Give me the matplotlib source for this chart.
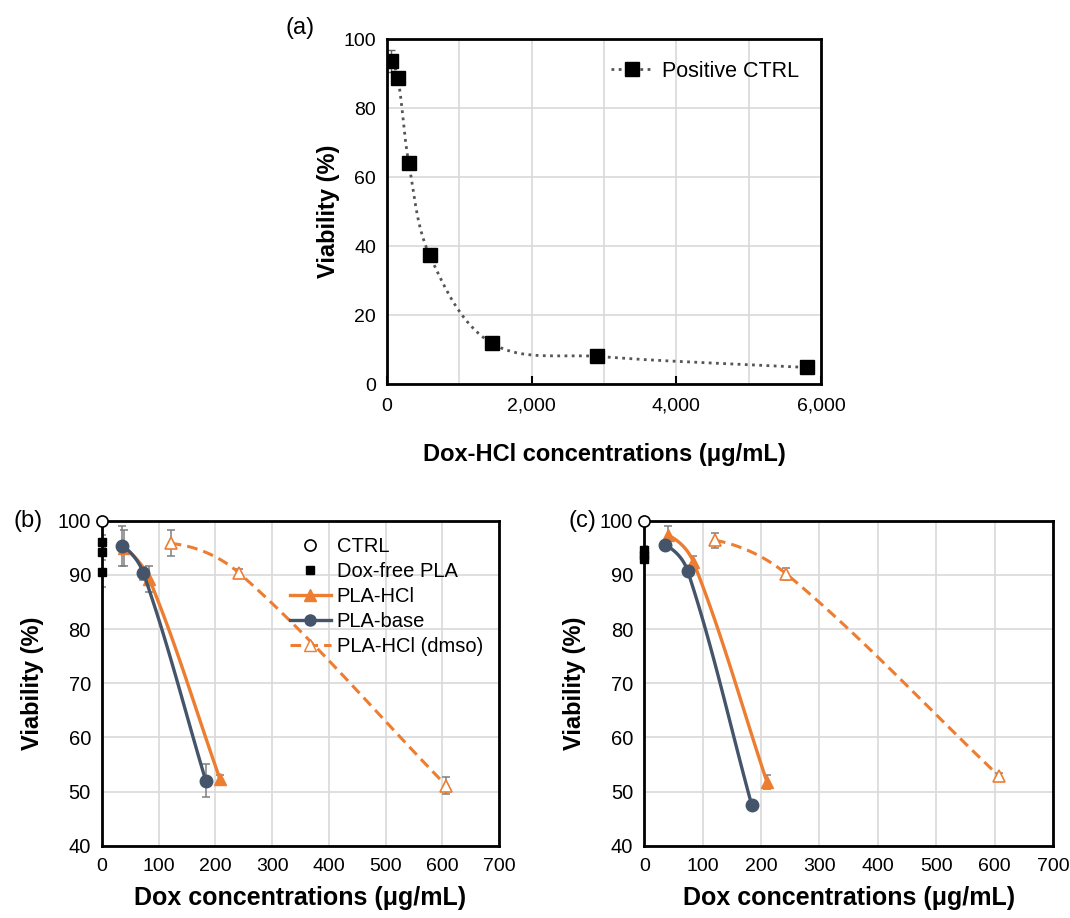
import numpy as np
import matplotlib
matplotlib.use('Agg')
import matplotlib.pyplot as plt
from matplotlib import font_manager as fm
from matplotlib.ticker import MultipleLocator, FuncFormatter
from matplotlib.lines import Line2D

# ---------------- data ----------------
a_conc = [60, 150, 300, 590, 1450, 2900, 5800]
a_viab = [93.5, 88.8, 64.2, 37.3, 11.8, 8.0, 4.8]
a_err = [3.2, 1.0, 1.0, 1.0, 0.8, 0.6, 0.6]

b_ctrl_x = [0]
b_ctrl_y = [100]
b_free_x = [0, 0, 0]
b_free_y = [96.1, 94.2, 90.6]
b_free_err = [1.2, 1.5, 2.8]
b_hcl_x = [38, 83, 208]
b_hcl_y = [95.0, 89.3, 52.3]
b_hcl_err = [3.3, 2.4, 0.8]
b_base_x = [36, 73, 183]
b_base_y = [95.4, 90.3, 52.0]
b_base_err = [3.7, 1.2, 3.0]
b_dmso_x = [121, 241, 607]
b_dmso_y = [95.8, 90.4, 51.1]
b_dmso_err = [2.4, 0.7, 1.5]

c_ctrl_x = [0]
c_ctrl_y = [100]
c_free_x = [0, 0, 0]
c_free_y = [94.5, 93.7, 92.9]
c_free_err = [0.8, 0.8, 0.8]
c_hcl_x = [41, 84, 210]
c_hcl_y = [97.3, 92.4, 51.8]
c_hcl_err = [1.7, 1.0, 1.3]
c_base_x = [36, 74, 184]
c_base_y = [95.5, 90.8, 47.5]
c_base_err = [0.8, 0.5, 0.4]
c_dmso_x = [121, 243, 608]
c_dmso_y = [96.4, 90.2, 52.8]
c_dmso_err = [1.4, 1.1, 0.7]

a_xticks = [0, 2000, 4000, 6000]
a_yticks = [0, 20, 40, 60, 80, 100]
bc_xticks = [0, 100, 200, 300, 400, 500, 600, 700]
bc_yticks = [40, 50, 60, 70, 80, 90, 100]

ORANGE = '#ED7D31'
BLUE = '#44546A'
GRID = '#d9d9d9'
ERRC = '#7f7f7f'

avail = {f.name for f in fm.fontManager.ttflist}
BASE = 'Liberation Sans' if 'Liberation Sans' in avail else 'DejaVu Sans'
NARROW = 'Liberation Sans Narrow' if 'Liberation Sans Narrow' in avail else BASE
plt.rcParams['font.family'] = [BASE, 'DejaVu Sans']


def _unit(v):
    return v / (np.hypot(*v) + 1e-12)


def smooth(x, y, xr, yr, n=40):
    """Smoothed line drawn through the data points (Bezier, length-scaled tangents)."""
    P = np.column_stack([np.asarray(x, float) / xr, np.asarray(y, float) / yr])
    m = len(P)
    D = [None] * m
    for i in range(1, m - 1):
        D[i] = _unit(P[i + 1] - P[i - 1])
    if m == 2:
        D[0] = D[1] = _unit(P[1] - P[0])
    else:
        ch = _unit(P[1] - P[0])
        D[0] = _unit(2 * np.dot(ch, D[1]) * ch - D[1])
        D[-1] = _unit(P[-1] - P[-2])
    out = []
    for i in range(m - 1):
        p1, p2 = P[i], P[i + 1]
        L = np.hypot(*(p2 - p1))
        c1 = p1 + D[i] * L / 3.0
        c2 = p2 - D[i + 1] * L / 3.0
        t = np.linspace(0, 1, n)[:, None]
        seg = ((1 - t) ** 3) * p1 + 3 * ((1 - t) ** 2) * t * c1 + 3 * (1 - t) * t ** 2 * c2 + t ** 3 * p2
        out.append(seg if i == 0 else seg[1:])
    S = np.vstack(out)
    return S[:, 0] * xr, S[:, 1] * yr


fig = plt.figure(figsize=(10.7, 9.18), dpi=100)

# ---------------- panel (a) ----------------
axa = fig.add_axes([387 / 1070, 1 - 384 / 918, 434 / 1070, 345 / 918])
axa.set_xlim(0, 6000)
axa.set_ylim(0, 100)
axa.set_xticks(a_xticks)
axa.set_yticks(a_yticks)
axa.xaxis.set_minor_locator(MultipleLocator(1000))
axa.xaxis.set_major_formatter(FuncFormatter(lambda v, p: f'{int(v):,}'))
axa.grid(True, which='both', color=GRID, lw=1.2)
axa.set_axisbelow(True)
sx, sy = smooth(a_conc, a_viab, 6000 / 434, 100 / 345)
axa.plot(sx, sy, ls=(0, (1, 1.6)), color='#555555', lw=2)
axa.errorbar(a_conc, a_viab, yerr=a_err, fmt='none', ecolor='#666666', elinewidth=1, capsize=3)
axa.plot(a_conc, a_viab, 's', color='black', ms=9.5, ls='none')
axa.tick_params(axis='x', which='major', direction='in', length=6, width=1.5, labelsize=14, pad=10)
axa.tick_params(axis='x', which='minor', length=0)
axa.tick_params(axis='y', length=0, labelsize=14, pad=8)
for s in axa.spines.values():
    s.set_linewidth(2)
axa.set_xlabel('Dox-HCl concentrations (μg/mL)', fontsize=17, fontweight='bold', labelpad=20)
axa.set_ylabel('Viability (%)', fontsize=17, fontweight='bold', labelpad=2)
h = Line2D([], [], color='#555555', ls=(0, (1, 1.6)), lw=2, marker='s', ms=9.5, mfc='black', mec='black')
axa.legend([h], ['Positive CTRL'], loc='upper right', frameon=False, fontsize=15.5,
           handlelength=2.0, handletextpad=0.4, borderaxespad=0.6)
fig.text(300 / 1070, 1 - 28 / 918, '(a)', fontsize=17, ha='center', va='center')


def panel(ax, ctrl_x, ctrl_y, free_x, free_y, free_err, hcl_x, hcl_y, hcl_err,
          base_x, base_y, base_err, dmso_x, dmso_y, dmso_err, wpx, legend=False):
    xr, yr = 700 / wpx, 60 / 325
    ax.set_xlim(0, 700)
    ax.set_ylim(40, 100)
    ax.set_xticks(bc_xticks)
    ax.set_yticks(bc_yticks)
    ax.grid(True, color=GRID, lw=1.2)
    ax.set_axisbelow(True)
    ek = dict(fmt='none', ecolor=ERRC, elinewidth=1.1, capsize=3, capthick=1.1)
    ax.errorbar(free_x, free_y, yerr=free_err, **ek)
    ax.errorbar(hcl_x, hcl_y, yerr=hcl_err, **ek)
    ax.errorbar(base_x, base_y, yerr=base_err, **ek)
    ax.errorbar(dmso_x, dmso_y, yerr=dmso_err, **ek)
    x, y = smooth(dmso_x, dmso_y, xr, yr)
    ax.plot(x, y, color=ORANGE, lw=2.2, ls=(0, (3.5, 2)))
    ax.plot(dmso_x, dmso_y, '^', ms=8, mfc='white', mec=ORANGE, mew=1.2, ls='none')
    x, y = smooth(hcl_x, hcl_y, xr, yr)
    ax.plot(x, y, color=ORANGE, lw=2.4)
    ax.plot(hcl_x, hcl_y, '^', ms=8, color=ORANGE, ls='none')
    x, y = smooth(base_x, base_y, xr, yr)
    ax.plot(x, y, color=BLUE, lw=2.4)
    ax.plot(base_x, base_y, 'o', ms=9, color=BLUE, ls='none')
    ax.plot(free_x, free_y, 's', ms=6, color='black', ls='none', clip_on=False)
    ax.plot(ctrl_x, ctrl_y, 'o', ms=8, mfc='white', mec='black', mew=1.2, ls='none', clip_on=False, zorder=5)
    ax.tick_params(axis='both', length=0)
    ax.tick_params(axis='y', labelsize=14.5, pad=8)
    ax.tick_params(axis='x', labelsize=14, pad=9)
    for lab in ax.get_xticklabels():
        lab.set_fontfamily([NARROW, 'DejaVu Sans'])
    for s in ax.spines.values():
        s.set_linewidth(2)
    ax.set_xlabel('Dox concentrations (μg/mL)', fontsize=18, fontweight='bold', labelpad=8,
                  fontfamily=[NARROW, 'DejaVu Sans'])
    ax.set_ylabel('Viability (%)', fontsize=17, fontweight='bold', labelpad=10)
    if legend:
        hs = [Line2D([], [], ls='none', marker='o', ms=8, mfc='white', mec='black', mew=1.2),
              Line2D([], [], ls='none', marker='s', ms=6, color='black'),
              Line2D([], [], color=ORANGE, lw=2.4, marker='^', ms=8),
              Line2D([], [], color=BLUE, lw=2.4, marker='o', ms=8),
              Line2D([], [], color=ORANGE, lw=2.2, ls=(0, (3.5, 2)), marker='^', ms=8, mfc='white', mec=ORANGE)]
        ax.legend(hs, ['CTRL', 'Dox-free PLA', 'PLA-HCl', 'PLA-base', 'PLA-HCl (dmso)'],
                  loc='upper right', frameon=False, fontsize=14.5, handlelength=2.0,
                  handletextpad=0.3, labelspacing=0.3, borderaxespad=0.4)


axb = fig.add_axes([102 / 1070, 1 - 845.7 / 918, 397 / 1070, 325 / 918])
panel(axb, b_ctrl_x, b_ctrl_y, b_free_x, b_free_y, b_free_err, b_hcl_x, b_hcl_y, b_hcl_err,
      b_base_x, b_base_y, b_base_err, b_dmso_x, b_dmso_y, b_dmso_err, 397, legend=True)
fig.text(28 / 1070, 1 - 521 / 918, '(b)', fontsize=17, ha='center', va='center')

axc = fig.add_axes([644.3 / 1070, 1 - 845.7 / 918, 408.7 / 1070, 325 / 918])
panel(axc, c_ctrl_x, c_ctrl_y, c_free_x, c_free_y, c_free_err, c_hcl_x, c_hcl_y, c_hcl_err,
      c_base_x, c_base_y, c_base_err, c_dmso_x, c_dmso_y, c_dmso_err, 408.7, legend=False)
fig.text(582 / 1070, 1 - 521 / 918, '(c)', fontsize=17, ha='center', va='center')

fig.savefig('out.png', dpi=100, facecolor='white')
